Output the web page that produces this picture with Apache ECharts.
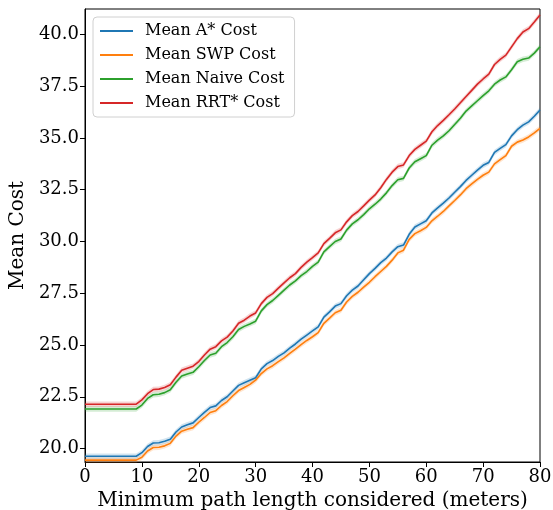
<!DOCTYPE html>
<html>
<head>
<meta charset="utf-8">
<script src="https://cdn.jsdelivr.net/npm/echarts@6/dist/echarts.min.js"></script>
<style>html,body{margin:0;padding:0;background:#fff;}#c{width:553px;height:510px;}</style>
</head>
<body>
<div id="c"></div>
<script>
const xValues = Array.from({length: 81}, (_, i) => i);
const xTicks = [0, 10, 20, 30, 40, 50, 60, 70, 80];
const yTicks = [20, 22.5, 25, 27.5, 30, 32.5, 35, 37.5, 40];
const seriesNames = ['Mean A* Cost', 'Mean SWP Cost', 'Mean Naive Cost', 'Mean RRT* Cost'];

const astar = [19.63,19.63,19.63,19.63,19.63,19.63,19.63,19.63,19.63,19.63,
  19.8,20.1,20.27,20.28,20.35,20.45,20.8,21.04,21.15,21.24,
  21.5,21.75,21.98,22.06,22.32,22.5,22.78,23.05,23.18,23.3,
  23.42,23.85,24.1,24.25,24.45,24.62,24.85,25.05,25.28,25.48,
  25.68,25.88,26.35,26.6,26.88,27.0,27.38,27.65,27.85,28.15,
  28.45,28.7,28.98,29.2,29.5,29.75,29.83,30.35,30.7,30.85,
  31.0,31.38,31.62,31.85,32.1,32.38,32.65,32.95,33.2,33.45,
  33.68,33.82,34.3,34.5,34.68,35.1,35.4,35.62,35.78,36.05,36.35];
const swp = [19.44,19.44,19.44,19.44,19.44,19.44,19.44,19.44,19.44,19.44,
  19.58,19.88,20.05,20.06,20.13,20.25,20.6,20.84,20.93,21.01,
  21.27,21.5,21.74,21.83,22.08,22.27,22.55,22.8,22.95,23.1,
  23.3,23.62,23.85,24.0,24.2,24.38,24.6,24.8,25.02,25.22,
  25.4,25.6,26.05,26.3,26.56,26.68,27.08,27.35,27.55,27.8,
  28.03,28.3,28.55,28.8,29.1,29.45,29.58,30.1,30.38,30.52,
  30.68,31.0,31.22,31.45,31.72,31.98,32.25,32.55,32.78,33.0,
  33.2,33.35,33.75,33.95,34.15,34.6,34.8,34.9,35.05,35.25,35.47];
const naive = [21.91,21.91,21.91,21.91,21.91,21.91,21.91,21.91,21.91,21.91,
  22.1,22.42,22.6,22.62,22.7,22.84,23.2,23.5,23.6,23.68,
  23.95,24.25,24.52,24.6,24.92,25.12,25.4,25.75,25.9,26.02,
  26.15,26.65,26.95,27.15,27.4,27.65,27.9,28.1,28.35,28.55,
  28.8,29.0,29.5,29.75,30.0,30.12,30.55,30.85,31.05,31.3,
  31.58,31.8,32.05,32.35,32.7,32.98,33.05,33.55,33.85,34.0,
  34.15,34.65,34.9,35.1,35.35,35.65,35.95,36.3,36.55,36.8,
  37.05,37.28,37.6,37.8,37.95,38.3,38.68,38.8,38.86,39.1,39.41];
const rrt = [22.14,22.14,22.14,22.14,22.14,22.14,22.14,22.14,22.14,22.14,
  22.35,22.65,22.85,22.87,22.95,23.08,23.45,23.78,23.88,23.98,
  24.2,24.52,24.8,24.92,25.2,25.38,25.68,26.05,26.2,26.4,
  26.55,27.0,27.3,27.48,27.75,28.0,28.25,28.45,28.75,29.0,
  29.22,29.45,29.9,30.15,30.42,30.56,30.95,31.25,31.45,31.72,
  32.0,32.25,32.6,33.0,33.35,33.62,33.7,34.15,34.45,34.65,
  34.85,35.3,35.6,35.85,36.12,36.4,36.7,37.0,37.3,37.6,
  37.85,38.08,38.55,38.8,39.0,39.4,39.8,40.12,40.28,40.6,40.94];
// confidence band half-widths per series
const bandHalf = [0.13, 0.13, 0.13, 0.13];

const colors = ['#1f77b4', '#ff7f0e', '#2ca02c', '#d62728'];
const allData = [astar, swp, naive, rrt];
const FONT = 'DejaVu Serif';

const series = [];
allData.forEach((d, i) => {
  const h = bandHalf[i];
  series.push({
    name: 'band_lo_' + i, type: 'line', stack: 'band' + i, silent: true,
    data: d.map(v => v - h), symbol: 'none', lineStyle: {opacity: 0}, z: 1
  });
  series.push({
    name: 'band_hi_' + i, type: 'line', stack: 'band' + i, silent: true,
    data: d.map(() => 2 * h), symbol: 'none', lineStyle: {opacity: 0},
    areaStyle: {color: colors[i], opacity: 0.2, origin: 'auto'}, z: 1
  });
});
allData.forEach((d, i) => {
  series.push({
    name: seriesNames[i], type: 'line', data: d, symbol: 'none',
    lineStyle: {color: colors[i], width: 1.6}, itemStyle: {color: colors[i]}, z: 3
  });
});

const chart = echarts.init(document.getElementById('c'), null, {renderer: 'canvas'});
chart.setOption({
  animation: false,
  backgroundColor: '#fff',
  grid: {left: 85, right: 13, top: 9, bottom: 48, containLabel: false, outerBoundsMode: 'none',
    show: true, borderColor: '#000', borderWidth: 1, backgroundColor: 'transparent'},
  legend: {
    data: seriesNames.map(n => ({name: n, icon: 'rect'})),
    orient: 'vertical', left: 93, top: 17,
    itemWidth: 33, itemHeight: 2, itemGap: 8,
    padding: [6, 10, 6, 7],
    borderColor: '#d0d0d0', borderWidth: 1, borderRadius: 4,
    backgroundColor: 'rgba(255,255,255,0.8)',
    textStyle: {fontFamily: FONT, fontSize: 16, color: '#000', lineHeight: 16, padding: [0, 0, 0, 7]}
  },
  xAxis: {
    type: 'category', data: xValues, boundaryGap: false,
    name: 'Minimum path length considered (meters)', nameLocation: 'middle', nameGap: 24,
    nameTextStyle: {fontFamily: FONT, fontSize: 20, color: '#000'},
    axisLine: {lineStyle: {color: '#000', width: 1}},
    axisTick: {show: true, interval: (idx, v) => xTicks.includes(Number(v)), length: 5, lineStyle: {color: '#000'}},
    axisLabel: {interval: (idx, v) => xTicks.includes(Number(v)), fontFamily: FONT, fontSize: 18, color: '#000', margin: 6},
    splitLine: {show: false}
  },
  yAxis: {
    type: 'value', min: 19.35, max: 41.23,
    name: 'Mean Cost', nameLocation: 'middle', nameGap: 52,
    nameTextStyle: {fontFamily: FONT, fontSize: 20, color: '#000'},
    axisLine: {show: true, lineStyle: {color: '#000', width: 1}},
    axisTick: {show: true, length: 5, lineStyle: {color: '#000'}, customValues: yTicks},
    axisLabel: {fontFamily: FONT, fontSize: 18, color: '#000', margin: 6, customValues: yTicks,
      formatter: v => Number(v).toFixed(1)},
    splitLine: {show: false}
  },
  series: series
});
</script>
</body>
</html>
